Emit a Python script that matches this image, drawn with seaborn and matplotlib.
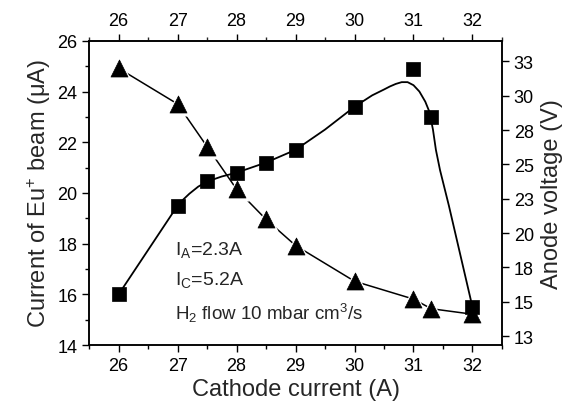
import matplotlib
matplotlib.use("Agg")
import matplotlib.pyplot as plt
import seaborn as sns
import numpy as np
import pandas as pd
from matplotlib.ticker import MultipleLocator

sns.set_style("ticks")
plt.rcParams['font.family'] = ['Liberation Sans', 'DejaVu Sans']
plt.rcParams['mathtext.fontset'] = 'custom'
plt.rcParams['mathtext.rm'] = 'Liberation Sans'
plt.rcParams['mathtext.it'] = 'Liberation Sans'

# Data
cathode_current = [26, 27, 27.5, 28, 28.5, 29, 30, 31, 31.3, 32]
beam_current = [16.0, 19.5, 20.47, 20.8, 21.2, 21.7, 23.4, 24.9, 23.0, 15.5]
anode_voltage = [32.0, 29.4, 26.3, 23.2, 21.0, 19.1, 16.5, 15.2, 14.5, 14.1]

# smooth guide curve through beam current
curve_x = [26, 27, 27.1, 27.2, 27.35, 27.5, 27.75, 28, 28.5, 29, 29.5, 30, 30.3, 30.5, 30.6,
           30.7, 30.8, 30.9, 31.0, 31.1, 31.2, 31.27, 31.33, 31.38, 31.45, 31.6, 31.8, 32]
curve_y = [16.0, 19.5, 19.75, 19.97, 20.25, 20.45, 20.65, 20.8, 21.2, 21.7, 22.5, 23.4, 23.85, 24.08,
           24.2, 24.3, 24.37, 24.37, 24.25, 24.0, 23.6, 23.2, 22.5, 21.7, 20.9, 19.5, 17.5, 15.5]

right_ticks = [12.5, 15, 17.5, 20, 22.5, 25, 27.5, 30, 32.5]
right_labels = ['13', '15', '18', '20', '23', '25', '28', '30', '33']
x_ticks = [26, 27, 28, 29, 30, 31, 32]

df = pd.DataFrame({'x': cathode_current, 'beam': beam_current, 'volt': anode_voltage})
cdf = pd.DataFrame({'x': curve_x, 'y': curve_y})

fig = plt.figure(figsize=(5.64, 4.02), dpi=100)
ax = fig.add_axes([0.158, 0.139, 0.732, 0.757])
ax2 = ax.twinx()

# anode voltage (triangles) on right axis with gaps around markers
sns.lineplot(data=df, x='x', y='volt', ax=ax2, color='black', lw=1.1, zorder=1)
sns.scatterplot(data=df, x='x', y='volt', ax=ax2, marker='^', s=300, color='white',
                edgecolor='white', linewidth=0, zorder=2)
sns.scatterplot(data=df, x='x', y='volt', ax=ax2, marker='^', s=150, color='black',
                edgecolor='black', linewidth=0.5, zorder=3)

# beam current (squares) on left axis, drawn on top
ax.set_zorder(ax2.get_zorder() + 1)
ax.patch.set_visible(False)
sns.lineplot(data=cdf, x='x', y='y', ax=ax, color='black', lw=1.3, zorder=2)
sns.scatterplot(data=df, x='x', y='beam', ax=ax, marker='s', s=100, color='black',
                edgecolor='black', linewidth=0.5, zorder=3)

ax.set_xlim(25.5, 32.5)
ax.set_ylim(14, 26)
ax2.set_ylim(11.85, 34.0)

ax.set_xticks(x_ticks)
ax.xaxis.set_minor_locator(MultipleLocator(0.5))
ax.set_yticks([14, 16, 18, 20, 22, 24, 26])
ax.yaxis.set_minor_locator(MultipleLocator(1))
ax2.set_yticks(right_ticks)
ax2.set_yticklabels(right_labels)

top = ax.secondary_xaxis('top')
top.set_xticks(x_ticks)
top.xaxis.set_minor_locator(MultipleLocator(0.5))

for a in (ax, ax2):
    for s in a.spines.values():
        s.set_visible(True)
        s.set_linewidth(1.1)
        s.set_color('black')
top.spines['top'].set_linewidth(1.1)

tick_kw = dict(direction='out', labelsize=13, colors='black', width=1.0)
ax.tick_params(axis='both', which='major', length=5, **tick_kw)
ax.tick_params(axis='both', which='minor', length=3, direction='out', width=1.0, colors='black')
ax2.tick_params(axis='y', which='major', length=5, **tick_kw)
top.tick_params(axis='x', which='major', length=5, **tick_kw)
top.tick_params(axis='x', which='minor', length=3, direction='out', width=1.0)

ax.set_xlabel('Cathode current (A)', fontsize=17, labelpad=3)
ax.set_ylabel('Current of Eu$^{+}$ beam (μA)', fontsize=17, labelpad=3)
ax2.set_ylabel('Anode voltage (V)', fontsize=17, labelpad=5)

ax.text(26.95, 17.8, 'I$_{A}$=2.3A', fontsize=14, va='center', ha='left')
ax.text(26.95, 16.6, 'I$_{C}$=5.2A', fontsize=14, va='center', ha='left')
ax.text(26.95, 15.3, 'H$_{2}$ flow 10 mbar cm$^{3}$/s', fontsize=13.5, va='center', ha='left')

fig.savefig('out.png', dpi=100)
